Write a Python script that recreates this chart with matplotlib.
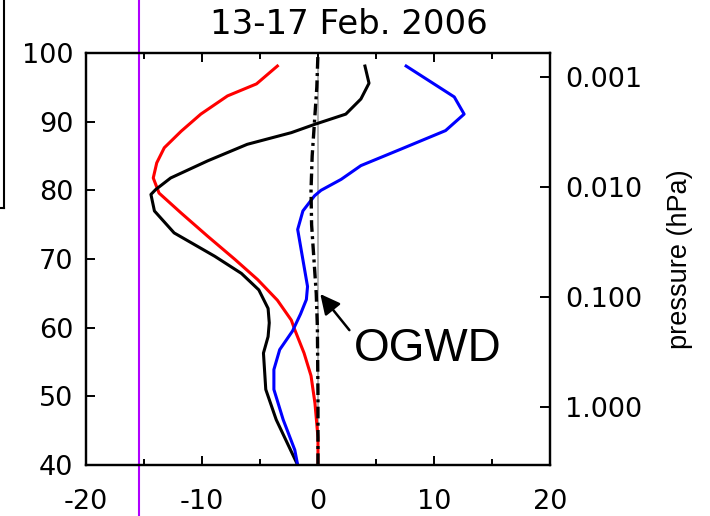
import numpy as np
import matplotlib.pyplot as plt
from matplotlib.lines import Line2D

plt.rcParams['axes.unicode_minus'] = False

# altitude (km) / value pairs
red_z = [40, 44, 49, 53, 56.3, 59.7, 61.1, 64, 67, 70, 73.3, 76.7, 79.6, 81.8, 84, 86.2, 88.6, 91.1, 93.75, 95.5, 98.1]
red_x = [0.0, 0.0, -0.26, -0.6, -1.2, -2.0, -2.3, -3.5, -5.2, -7.2, -9.5, -11.8, -13.7, -14.2, -13.9, -13.25, -11.8, -10.1, -7.8, -5.3, -3.5]

blk_z = [40, 46.6, 51, 56.3, 58.7, 60.7, 62.8, 65.5, 67.9, 70.4, 73.8, 77, 79.4, 80.1, 81.8, 84.3, 86.7, 88.4, 89.6, 91.1, 93.3, 95.6, 98.1]
blk_x = [-1.75, -3.6, -4.5, -4.7, -4.3, -4.2, -4.3, -5.1, -6.6, -8.9, -12.4, -14.1, -14.4, -14.0, -12.7, -9.5, -6.1, -2.3, -0.3, 2.4, 3.7, 4.4, 4.05]

blu_z = [40, 42.2, 46.6, 51, 53.9, 56.8, 59.5, 62, 64.1, 66, 69.9, 74.3, 77, 79.2, 80, 81.6, 83.6, 86, 88.7, 91.1, 93.6, 98.1]
blu_x = [-1.75, -2.0, -3.0, -3.8, -3.8, -3.3, -2.2, -1.5, -1.0, -0.9, -1.3, -1.75, -1.3, -0.3, 0.26, 2.0, 3.7, 7.15, 11.0, 12.6, 11.75, 7.6]

ogwd_z = [40, 50, 60, 65, 70, 75, 80, 85, 90, 95, 100]
ogwd_x = [0, 0, -0.05, -0.15, -0.35, -0.55, -0.6, -0.5, -0.3, -0.1, 0]

xticks = [-20, -10, 0, 10, 20]
yticks = [40, 50, 60, 70, 80, 90, 100]
p_ticks = [0.001, 0.01, 0.1, 1.0]
p_labels = ['0.001', '0.010', '0.100', '1.000']
magenta_x = -15.4


def z2p(z):
    return 10 ** (-(np.asarray(z) - 48.45) / 16.02)


fig = plt.figure(figsize=(7.1, 5.16), dpi=100)
ax = fig.add_axes([0.1211, 0.0988, 0.6535, 0.7985])

ax.axvline(0, color='#a8a8a8', lw=1.2, zorder=1)
ax.plot(red_x, red_z, color='red', lw=2.2)
ax.plot(blk_x, blk_z, color='black', lw=2.2)
ax.plot(blu_x, blu_z, color='blue', lw=2.2)
ax.plot(ogwd_x, ogwd_z, color='black', lw=2.4, linestyle=(0, (3.5, 1.3, 0.9, 1.3)))
ax.axvline(magenta_x, ymin=-0.13, ymax=1.14, clip_on=False, color='#b000ff', lw=1.5)

ax.annotate('OGWD', xy=(0.2, 64.9), xytext=(3.1, 56.9), va='center', ha='left',
            family='Liberation Sans', fontsize=33,
            arrowprops=dict(arrowstyle='-|>', color='black', lw=1.8, mutation_scale=30,
                            relpos=(0.0, 0.8), shrinkA=2, shrinkB=0))

ax.set_xlim(-20, 20)
ax.set_ylim(40, 100)
ax.set_xticks(xticks)
ax.set_xticks([-15, -5, 5, 15], minor=True)
ax.set_yticks(yticks)
ax.tick_params(axis='both', which='major', direction='in', length=6.5, width=1.4, labelsize=19.5)
ax.tick_params(axis='x', which='both', top=True, pad=17)
ax.tick_params(axis='x', which='minor', direction='in', length=4, width=1.4)
ax.tick_params(axis='y', pad=9, right=False)
for s in ax.spines.values():
    s.set_linewidth(1.6)

ax2 = ax.twinx()
ax2.set_yscale('log')
ax2.set_ylim(z2p(40), z2p(100))
ax2.set_yticks(p_ticks)
ax2.set_yticklabels(p_labels)
ax2.yaxis.set_minor_locator(plt.NullLocator())
ax2.tick_params(axis='y', direction='in', length=7.5, width=1.4, labelsize=19.5, pad=11)
ax2.set_ylabel('pressure (hPa)', family='Liberation Sans', fontsize=19.5, labelpad=18)
for s in ax2.spines.values():
    s.set_linewidth(1.6)

fig.text(0.491, 0.953, '13-17 Feb. 2006', ha='center', va='center', fontsize=24.5)

# edge of the neighbouring panel's frame
fig.add_artist(Line2D([0.0056, 0.0056], [1.0, 0.597], color='black', lw=1.5))
fig.add_artist(Line2D([0.0, 0.0056], [0.597, 0.597], color='black', lw=1.5))

fig.savefig('out.png', dpi=100)
